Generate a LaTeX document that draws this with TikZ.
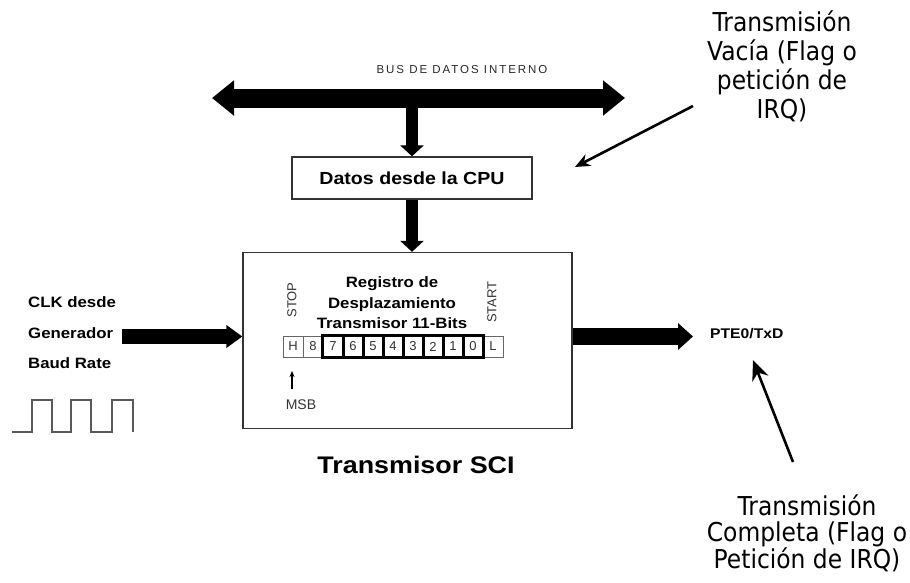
\documentclass[tikz,border=0pt]{standalone}
\usepackage{fontspec}
\setmainfont{Liberation Sans}
\newfontfamily\lblfont[FakeStretch=1.12]{Liberation Sans}
\newfontfamily\notefont[FakeStretch=0.9]{DejaVu Sans}
\usetikzlibrary{arrows.meta}

\tikzset{
  frame/.style={draw=black!80, line width=1.3pt, fill=white, inner sep=0pt},
  cell/.style={draw=black!60, line width=1pt, minimum width=20pt, minimum height=21pt,
               inner sep=0pt, font=\fontsize{13}{13}\selectfont, text=black!80},
  boldlbl/.style={font=\lblfont\bfseries\fontsize{#1}{#1}\selectfont, inner sep=0pt},
  note/.style={font=\notefont\fontsize{26}{#1}\selectfont, align=center, inner sep=0pt, text=black},
  pointer/.style={line width=2.6pt, -{Stealth[length=#1, width=0.85*#1]}},
}

\begin{document}
\begin{tikzpicture}[x=1pt,y=-1pt]
\useasboundingbox (0,0) rectangle (910,582);

% --- blocks
\node[frame, minimum width=240pt, minimum height=42pt] (datos) at (412,178) {};
\node[boldlbl=17.5] at (datos.center) {Datos desde la CPU};
\node[frame, minimum width=329pt, minimum height=176pt] (sci) at (407.5,340.5) {};

% --- shift register cells
\foreach \t [count=\i from 0] in {H,8,7,6,5,4,3,2,1,0,L}
  \node[cell] (c\i) at (293+20*\i,346.5) {\t};
\draw[line width=2.6pt] (c2.north west) rectangle (c9.south east);
\foreach \i in {2,...,8}
  \draw[line width=2.6pt] (c\i.north east) -- (c\i.south east);

\node[boldlbl=15, align=center, font=\lblfont\bfseries\fontsize{15}{20.5}\selectfont]
  (reg) at (392,303) {Registro de\\Desplazamiento\\Transmisor 11-Bits};
\node[rotate=90, font=\fontsize{13}{13}\selectfont, text=black!80, inner sep=0pt] (stop) at (292,300) {STOP};
\node[rotate=90, font=\fontsize{13}{13}\selectfont, text=black!80, inner sep=0pt] (start) at (492,302) {START};

\node[font=\fontsize{14}{14}\selectfont, text=black!80, inner sep=0pt] (msb) at (301,405) {MSB};
\coordinate (msbA) at (292,389);
\coordinate (msbB) at (292,371);
\draw[line width=1.2pt, -{Stealth[length=6pt,width=5pt]}] (msbA) -- (msbB);

\node[boldlbl=24] (title) at (416,465) {Transmisor SCI};

% --- internal data bus
\coordinate (busL) at (212,98);
\coordinate (busR) at (625,98);
\draw[line width=19pt, {Triangle[length=22pt 0 0, width=34pt 0 0]}-{Triangle[length=22pt 0 0, width=34pt 0 0]}] (busL) -- (busR);
\node[font=\fontsize{11.5}{11.5}\selectfont\addfontfeature{LetterSpace=17}, text=black!85, inner sep=0pt] (bus) at (462,70) {BUS DE DATOS INTERNO};

\draw[line width=12pt, -{Triangle[length=11pt 0 0, width=23pt 0 0]}] (datos.north |- busL) -- (datos.north);
\draw[line width=12pt, -{Triangle[length=11pt 0 0, width=23pt 0 0]}] (datos.south) -- (datos.south |- sci.north);

% --- clock input
\node[boldlbl=15, anchor=west] (clk) at (28,302) {CLK desde};
\node[boldlbl=15, anchor=west] (gen) at (28,333) {Generador};
\node[boldlbl=15, anchor=west] (baud) at (28,363) {Baud Rate};
\coordinate (rowy) at (0,336.5);
\coordinate (clkA) at (122,336.5);
\draw[line width=15pt, -{Triangle[length=16pt 0 0, width=22pt 0 0]}] (clkA) -- (sci.west |- rowy);
\draw[black!65, line width=1.6pt] (12,432) -- (32,432) -- (32,400) -- (52,400) -- (52,432)
  -- (71,432) -- (71,400) -- (91,400) -- (91,432) -- (112,432) -- (112,400) -- (133,400) -- (133,432);

% --- serial output
\node[boldlbl=14, anchor=west] (pte) at (710,334) {PTE0/TxD};
\coordinate (outTip) at (693,336.5);
\draw[line width=17pt, -{Triangle[length=15pt 0 0, width=26pt 0 0]}] (sci.east |- rowy) -- (outTip);

% --- flags
\node[note=29] (vacia) at (782,66) {Transmisión\\Vacía (Flag o\\petición de\\IRQ)};
\coordinate (vA) at (693,106);
\coordinate (vB) at (575,167);
\draw[pointer=15pt] (vA) -- (vB);

\node[note=26.5] (compl) at (807,533) {Transmisión\\Completa (Flag o\\Petición de IRQ)};
\coordinate (cA) at (793,462);
\coordinate (cB) at (753,360);
\draw[pointer=20pt] (cA) -- (cB);
\end{tikzpicture}
\end{document}
